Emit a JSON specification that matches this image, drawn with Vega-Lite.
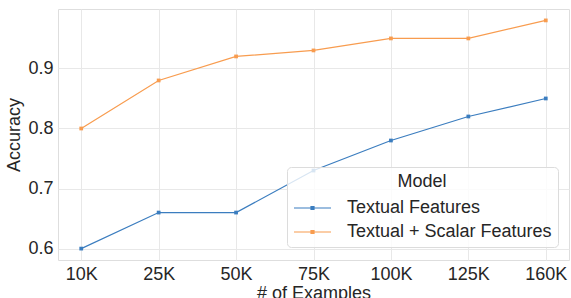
{
  "$schema": "https://vega.github.io/schema/vega-lite/v6.json",
  "width": 511,
  "height": 251,
  "autosize": {"type": "none"},
  "padding": {"left": 58, "top": 9, "right": 2, "bottom": 38},
  "background": "white",
  "config": {
    "view": {"stroke": "#dedede", "strokeWidth": 1},
    "font": "Liberation Sans",
    "axis": {
      "labelFont": "Liberation Sans",
      "titleFont": "Liberation Sans",
      "labelFontSize": 18,
      "titleFontSize": 18,
      "labelColor": "#262626",
      "titleColor": "#262626",
      "titleFontWeight": "normal",
      "gridColor": "#e8e8e8",
      "gridWidth": 1,
      "domain": false,
      "ticks": false
    },
    "legend": {
      "labelFont": "Liberation Sans",
      "titleFont": "Liberation Sans",
      "labelFontSize": 18,
      "titleFontSize": 18,
      "labelColor": "#262626",
      "titleColor": "#262626",
      "titleFontWeight": "normal"
    }
  },
  "data": {
    "values": [
      {"n": "10K", "model": "Textual Features", "acc": 0.60},
      {"n": "25K", "model": "Textual Features", "acc": 0.66},
      {"n": "50K", "model": "Textual Features", "acc": 0.66},
      {"n": "75K", "model": "Textual Features", "acc": 0.73},
      {"n": "100K", "model": "Textual Features", "acc": 0.78},
      {"n": "125K", "model": "Textual Features", "acc": 0.82},
      {"n": "160K", "model": "Textual Features", "acc": 0.85},
      {"n": "10K", "model": "Textual + Scalar Features", "acc": 0.80},
      {"n": "25K", "model": "Textual + Scalar Features", "acc": 0.88},
      {"n": "50K", "model": "Textual + Scalar Features", "acc": 0.92},
      {"n": "75K", "model": "Textual + Scalar Features", "acc": 0.93},
      {"n": "100K", "model": "Textual + Scalar Features", "acc": 0.95},
      {"n": "125K", "model": "Textual + Scalar Features", "acc": 0.95},
      {"n": "160K", "model": "Textual + Scalar Features", "acc": 0.98}
    ]
  },
  "encoding": {
    "x": {
      "field": "n",
      "type": "ordinal",
      "sort": ["10K", "25K", "50K", "75K", "100K", "125K", "160K"],
      "scale": {"type": "point", "padding": 0.3},
      "axis": {"title": "# of Examples", "labelAngle": 0, "labelPadding": 5, "titlePadding": 1, "grid": true}
    },
    "y": {
      "field": "acc",
      "type": "quantitative",
      "scale": {"domain": [0.581, 0.999], "zero": false, "nice": false},
      "axis": {"title": "Accuracy", "values": [0.6, 0.7, 0.8, 0.9], "format": ".1f", "labelPadding": 5, "titlePadding": 4}
    },
    "color": {
      "field": "model",
      "type": "nominal",
      "sort": ["Textual Features", "Textual + Scalar Features"],
      "scale": {"domain": ["Textual Features", "Textual + Scalar Features"], "range": ["#3b7dbf", "#f89c4f"]},
      "legend": {
        "title": "Model",
        "orient": "none",
        "legendX": 229,
        "legendY": 158,
        "titleAnchor": "middle",
        "fillColor": "rgba(255,255,255,0.8)",
        "strokeColor": "#dcdcdc",
        "cornerRadius": 4,
        "padding": 6,
        "titlePadding": 6,
        "rowPadding": 4,
        "labelOffset": 32,
        "labelLimit": 0,
        "symbolType": "M-1,0H2.7M0.7,-0.15H1V0.15H0.7Z",
        "symbolSize": 400,
        "symbolStrokeWidth": 1.2,
        "symbolOpacity": 1
      }
    }
  },
  "layer": [
    {"mark": {"type": "line", "strokeWidth": 1.2}},
    {"mark": {"type": "point", "filled": true, "size": 14, "opacity": 1, "shape": "square"}}
  ]
}
